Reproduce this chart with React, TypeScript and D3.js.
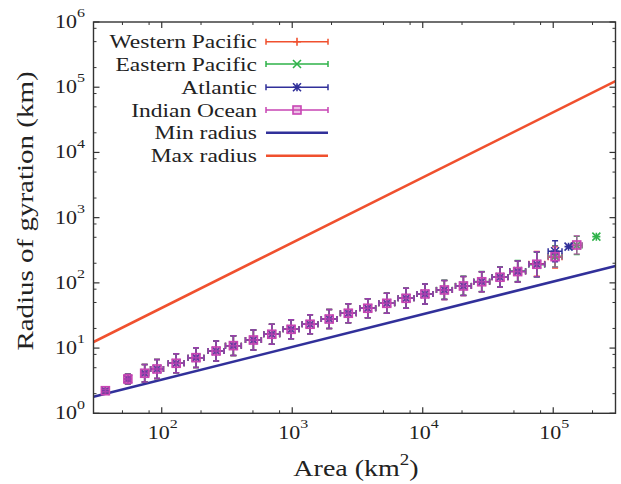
import React from "react";
import * as d3 from "d3";

// area bins (km^2) shared by all basins
const areaBins = [37, 55, 74, 92, 129, 183, 261, 354, 504, 697, 980, 1370, 1920, 2690, 3790, 5300, 7450, 10400, 14650, 20500, 28300, 39100, 53400, 74800, 103300, 151400];

// radius of gyration (km) per basin, null = no data in that bin
const westernPacific = [2.22, 3.36, 4.11, 4.78, 5.85, 7.13, 9.03, 10.9, 13.3, 16.3, 19.4, 23.2, 27.9, 34.2, 40.8, 48.6, 58.0, 67.6, 77.8, 89.6, 104, 122, 150, 196, 246, null];
const easternPacific = [2.22, 3.36, 4.11, 4.78, 5.85, 7.13, 9.03, 10.9, 13.3, 16.3, 19.4, 23.2, 27.9, 34.2, 40.8, 48.6, 58.0, 67.6, 78.5, 90.5, 105, 123, 152, 190, 255, 375];
const atlantic = [2.22, 3.36, 4.11, 4.78, 5.85, 7.13, 9.03, 10.9, 13.3, 16.3, 19.4, 23.2, 27.9, 34.2, 40.8, 48.6, 58.0, 67.6, 77.8, 89.6, 104, 122, 149, 193, 305, null];
const indianOcean = [2.22, 3.36, 4.11, 4.78, 5.85, 7.13, 9.03, 10.9, 13.3, 16.3, 19.4, 23.2, 27.9, 34.2, 40.8, 48.6, 58.0, 67.6, 77.8, 89.6, 104, 122, 149, 193, 252, 381];

// spread of each bin (multiplicative)
const areaSpread = [1.0, 1.04, 1.07, 1.12, 1.15, 1.15, 1.15, 1.15, 1.15, 1.15, 1.15, 1.15, 1.15, 1.15, 1.15, 1.15, 1.15, 1.15, 1.15, 1.15, 1.15, 1.15, 1.15, 1.15, 1.13, 1.1];
const radiusSpread = [1.04, 1.18, 1.36, 1.4, 1.4, 1.42, 1.42, 1.42, 1.42, 1.42, 1.4, 1.4, 1.4, 1.4, 1.4, 1.42, 1.42, 1.42, 1.4, 1.4, 1.42, 1.42, 1.45, 1.55, 1.45, 1.38];

// single events without spread
const singleAtlantic = [131000, 359];
const singleEastern = [214000, 511];

// bounding lines
const lineAreas = [30, 300000];
const minRadius = [1.8, 181];
const maxRadius = [12.4, 124000];

const xTicks = [100, 1000, 10000, 100000];
const yTicks = [1, 10, 100, 1000, 10000, 100000, 1000000];

const RED = "#f0502e";
const GREEN = "#2fb34a";
const BLUE = "#31309a";
const MAGENTA = "#c845b4";

const series = [
  { name: "Western Pacific", color: RED, values: westernPacific, marker: "plus" },
  { name: "Eastern Pacific", color: GREEN, values: easternPacific, marker: "cross" },
  { name: "Atlantic", color: BLUE, values: atlantic, marker: "star" },
  { name: "Indian Ocean", color: MAGENTA, values: indianOcean, marker: "square" },
];

const FONT = "'Liberation Serif', 'Times New Roman', serif";
const SY = 0.83; // glyphs in the original are a bit flattened

function Marker({ type, x, y, color }) {
  const s = 4;
  if (type === "square")
    return <rect x={x - s} y={y - s} width={2 * s} height={2 * s} fill={color} fillOpacity={0.35} stroke={color} strokeWidth={1.6} />;
  let d = "";
  if (type === "plus" || type === "star") d += `M${x - s},${y}H${x + s}M${x},${y - s}V${y + s}`;
  if (type === "cross" || type === "star") d += `M${x - s},${y - s}L${x + s},${y + s}M${x - s},${y + s}L${x + s},${y - s}`;
  return <path d={d} stroke={color} strokeWidth={1.6} fill="none" />;
}

function Txt({ x, y, size, anchor, rotate = 0, children }) {
  return (
    <text
      transform={`translate(${x},${y}) rotate(${rotate}) scale(1,${SY})`}
      textAnchor={anchor} fontFamily={FONT} fontSize={size} fill="#222"
    >
      {children}
    </text>
  );
}

function Pow({ x, y, exp, anchor }) {
  return (
    <Txt x={x} y={y} size={22} anchor={anchor}>
      10<tspan fontSize={16} dy={-13}>{exp}</tspan>
    </Txt>
  );
}

export default function App() {
  const left = 93.5, right = 615.5, top = 22, bottom = 413.3;
  const x = d3.scaleLog().domain([30, 300000]).range([left, right]);
  const y = d3.scaleLog().domain([1, 1000000]).range([bottom, top]);

  const minors = (dom) => {
    const out = [];
    for (let p = -1; p <= 6; p++)
      for (const m of [2, 5, 8]) {
        const v = m * Math.pow(10, p);
        if (v > dom[0] && v < dom[1]) out.push(v);
      }
    return out;
  };
  const xMinor = minors(x.domain());
  const yMinor = minors(y.domain());

  const line = d3.line().x((d) => x(d[0])).y((d) => y(d[1]));
  const minPts = lineAreas.map((a, i) => [a, minRadius[i]]);
  const maxPts = lineAreas.map((a, i) => [a, maxRadius[i]]);

  const cap = 3;
  const axisColor = "#333";

  const legendRows = [41.7, 64, 87.3, 110, 132.7, 155.7];
  const legX0 = 266, legX1 = 328, legTextX = 257;

  return (
    <svg width={621} height={484} style={{ position: "absolute", left: 0, top: 0, background: "#fff" }}>
      <defs>
        <clipPath id="plotArea">
          <rect x={left} y={top} width={right - left} height={bottom - top} />
        </clipPath>
      </defs>

      <g clipPath="url(#plotArea)">
        <path d={line(maxPts)} stroke={RED} strokeWidth={2.6} fill="none" />
        <path d={line(minPts)} stroke={BLUE} strokeWidth={2.6} fill="none" />

        {series.map((s) => (
          <g key={s.name}>
            {areaBins.map((a, i) => {
              const r = s.values[i];
              if (r == null) return null;
              const cx = x(a), cy = y(r);
              const x0 = x(a / areaSpread[i]), x1 = x(a * areaSpread[i]);
              const y0 = y(r / radiusSpread[i]), y1 = y(r * radiusSpread[i]);
              const d =
                `M${x0},${cy}H${x1}M${x0},${cy - cap}V${cy + cap}M${x1},${cy - cap}V${cy + cap}` +
                `M${cx},${y0}V${y1}M${cx - cap},${y0}H${cx + cap}M${cx - cap},${y1}H${cx + cap}`;
              return (
                <g key={i}>
                  <path d={d} stroke={s.color} strokeWidth={1.5} fill="none" opacity={s.marker === "square" ? 0.7 : 1} />
                  <Marker type={s.marker} x={cx} y={cy} color={s.color} />
                </g>
              );
            })}
          </g>
        ))}
        <Marker type="star" x={x(singleAtlantic[0])} y={y(singleAtlantic[1])} color={BLUE} />
        <Marker type="cross" x={x(singleEastern[0])} y={y(singleEastern[1])} color={GREEN} />
        <Marker type="plus" x={x(singleEastern[0])} y={y(singleEastern[1])} color={GREEN} />
      </g>

      {/* frame */}
      <rect x={left} y={top} width={right - left} height={bottom - top} fill="none" stroke={axisColor} strokeWidth={1.4} />

      {/* ticks */}
      {xTicks.map((t) => (
        <g key={"xt" + t}>
          <line x1={x(t)} x2={x(t)} y1={bottom} y2={bottom - 6} stroke={axisColor} strokeWidth={1.2} />
          <line x1={x(t)} x2={x(t)} y1={top} y2={top + 6} stroke={axisColor} strokeWidth={1.2} />
          <Pow x={x(t) + 1} y={439} exp={Math.round(Math.log10(t))} anchor="middle" />
        </g>
      ))}
      {xMinor.map((t) => (
        <g key={"xm" + t}>
          <line x1={x(t)} x2={x(t)} y1={bottom} y2={bottom - 3} stroke={axisColor} strokeWidth={1} />
          <line x1={x(t)} x2={x(t)} y1={top} y2={top + 3} stroke={axisColor} strokeWidth={1} />
        </g>
      ))}
      {yTicks.map((t) => (
        <g key={"yt" + t}>
          <line x1={left} x2={left + 6} y1={y(t)} y2={y(t)} stroke={axisColor} strokeWidth={1.2} />
          <line x1={right} x2={right - 6} y1={y(t)} y2={y(t)} stroke={axisColor} strokeWidth={1.2} />
          <Pow x={85} y={y(t) + 6} exp={Math.round(Math.log10(t))} anchor="end" />
        </g>
      ))}
      {yMinor.map((t) => (
        <g key={"ym" + t}>
          <line x1={left} x2={left + 3} y1={y(t)} y2={y(t)} stroke={axisColor} strokeWidth={1} />
          <line x1={right} x2={right - 3} y1={y(t)} y2={y(t)} stroke={axisColor} strokeWidth={1} />
        </g>
      ))}

      {/* axis titles */}
      <Txt x={356} y={476} size={28} anchor="middle">
        Area (km<tspan fontSize={19} dy={-13}>2</tspan><tspan dy={13}>)</tspan>
      </Txt>
      <Txt x={33} y={211} size={29} anchor="middle" rotate={-90}>
        Radius of gyration (km)
      </Txt>

      {/* legend */}
      {series.map((s, i) => {
        const ly = legendRows[i];
        const mx = (legX0 + legX1) / 2;
        return (
          <g key={"leg" + s.name}>
            <Txt x={legTextX} y={ly + 6.5} size={23.5} anchor="end">{s.name}</Txt>
            <path
              d={`M${legX0},${ly}H${legX1}M${legX0},${ly - cap}V${ly + cap}M${legX1},${ly - cap}V${ly + cap}`}
              stroke={s.color} strokeWidth={1.5} fill="none"
            />
            <Marker type={s.marker} x={mx} y={ly} color={s.color} />
          </g>
        );
      })}
      {[["Min radius", BLUE], ["Max radius", RED]].map(([name, c], j) => {
        const ly = legendRows[4 + j];
        return (
          <g key={"leg" + name}>
            <Txt x={legTextX} y={ly + 6.5} size={23.5} anchor="end">{name}</Txt>
            <line x1={legX0} x2={legX1} y1={ly} y2={ly} stroke={c} strokeWidth={2.6} />
          </g>
        );
      })}
    </svg>
  );
}
